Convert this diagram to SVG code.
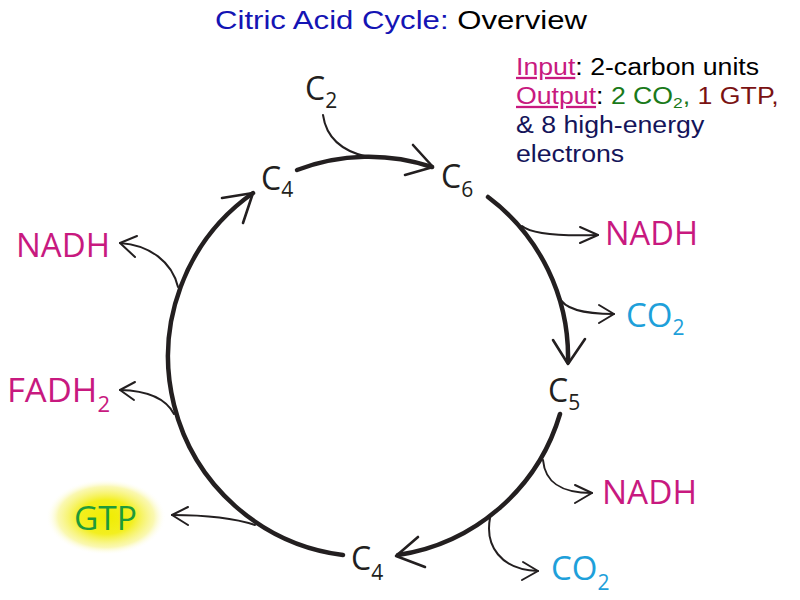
<svg xmlns="http://www.w3.org/2000/svg" width="800" height="600" viewBox="0 0 800 600">
<defs>
<radialGradient id="glow" cx="50%" cy="50%" r="50%">
<stop offset="0" stop-color="#f0ec00"/>
<stop offset="0.45" stop-color="#f3ef20"/>
<stop offset="0.8" stop-color="#f8f590" stop-opacity="0.7"/>
<stop offset="1" stop-color="#ffffff" stop-opacity="0"/>
</radialGradient>
<style>
.arc{fill:none;stroke:#231f20;stroke-width:4.5;stroke-linecap:round;stroke-linejoin:round}
.thin{fill:none;stroke:#231f20;stroke-width:2;stroke-linecap:round;stroke-linejoin:round}
.head{fill:none;stroke:#231f20;stroke-width:2.6;stroke-linecap:round;stroke-linejoin:round}
.lbl{font-family:"Open Sans","Noto Sans",sans-serif}
.c{fill:#231f20;font-size:32px}
.sub{font-size:21px}
.mag{fill:#c8197f;font-size:33px}
.cy{fill:#1ea0da;font-size:33px}
.gr{fill:#1f9a3a;font-size:32px}
.ar{font-family:"Liberation Sans",Arial,sans-serif}
</style>
</defs>
<rect width="800" height="600" fill="#ffffff"/>

<text class="ar" x="215" y="29" font-size="25" textLength="372" lengthAdjust="spacingAndGlyphs"><tspan fill="#1414b4">Citric Acid Cycle:</tspan><tspan fill="#000000"> Overview</tspan></text>

<g id="info" class="ar" font-size="23" transform="translate(516 0) scale(1.16 1)">
<text x="0" y="75"><tspan fill="#c8197f" text-decoration="underline">Input</tspan><tspan fill="#000000">: 2-carbon units</tspan></text>
<text x="0" y="104"><tspan fill="#c8197f" text-decoration="underline">Output</tspan><tspan fill="#000000">: </tspan><tspan fill="#1a7a1a">2 CO</tspan><tspan fill="#1a7a1a" font-size="15" dy="4">2</tspan><tspan fill="#1a7a1a" dy="-4">,</tspan><tspan fill="#7a1212"> 1 GTP,</tspan></text>
<text x="0" y="133" fill="#14145a">&amp; 8 high-energy</text>
<text x="0" y="162" fill="#14145a">electrons</text>
</g>

<g id="glow-gtp"><ellipse cx="106" cy="517" rx="60" ry="38" fill="url(#glow)"/></g>

<g id="connectors">
<path class="arc" d="M297,170 A200,200 0 0 1 432,167"/>
<path class="head" d="M413,145 L433,167 L405,175"/>
<path class="arc" d="M488,197 A200,200 0 0 1 568,362"/>
<path class="head" d="M553,340 L568,364 L585,339"/>
<path class="arc" d="M560,414 A200,200 0 0 1 398,555"/>
<path class="head" d="M418,537 L396,556 L425,567"/>
<path class="arc" d="M343,555 A200,200 0 0 1 253,193"/>
<path class="head" d="M222,198 L253,193 L243,223"/>

<path class="thin" d="M323,115 C326,136 340,151 368,157"/>
<path class="thin" d="M522,226 Q535,237 598,235"/>
<path class="thin" d="M580,227 L598,235 L580,243"/>
<path class="thin" d="M559,297 Q566,314 614,314"/>
<path class="thin" d="M599,305 L614,314 L599,323"/>
<path class="thin" d="M543,460 C545,482 560,493 592,493"/>
<path class="thin" d="M575,485 L592,493 L575,503"/>
<path class="thin" d="M490,518 C485,545 500,570 538,571"/>
<path class="thin" d="M523,562 L538,571 L522,580"/>
<path class="thin" d="M255,525 Q225,515 172,515"/>
<path class="thin" d="M188,507 L172,515 L188,525"/>
<path class="thin" d="M174,414 Q162,391 120,390"/>
<path class="thin" d="M135,382 L120,390 L134,400"/>
<path class="thin" d="M178,287 C172,262 150,245 120,243"/>
<path class="thin" d="M137,236 L120,243 L135,257"/>
</g>

<g id="c2" class="lbl c"><text x="305" y="100">C<tspan class="sub" dy="8">2</tspan></text></g>
<g id="c4-top" class="lbl c"><text x="261" y="190">C<tspan class="sub" dy="7">4</tspan></text></g>
<g id="c6" class="lbl c"><text x="441" y="188">C<tspan class="sub" dy="9">6</tspan></text></g>
<g id="c5" class="lbl c"><text x="548" y="402">C<tspan class="sub" dy="8">5</tspan></text></g>
<g id="c4-bottom" class="lbl c"><text x="351" y="570">C<tspan class="sub" dy="10">4</tspan></text></g>

<g id="nadh-1" class="lbl mag"><text x="605" y="245" textLength="93" lengthAdjust="spacingAndGlyphs">NADH</text></g>
<g id="co2-1" class="lbl cy"><text x="626" y="327">CO<tspan class="sub" dy="8">2</tspan></text></g>
<g id="nadh-2" class="lbl mag"><text x="602" y="504" textLength="95" lengthAdjust="spacingAndGlyphs">NADH</text></g>
<g id="co2-2" class="lbl cy"><text x="551" y="580">CO<tspan class="sub" dy="10">2</tspan></text></g>
<g id="gtp" class="lbl gr"><text x="74" y="530" textLength="63" lengthAdjust="spacingAndGlyphs">GTP</text></g>
<g id="fadh2" class="lbl mag"><text x="7" y="402" textLength="103" lengthAdjust="spacingAndGlyphs">FADH<tspan class="sub" dy="10">2</tspan></text></g>
<g id="nadh-3" class="lbl mag"><text x="16" y="257" textLength="94" lengthAdjust="spacingAndGlyphs">NADH</text></g>
</svg>
